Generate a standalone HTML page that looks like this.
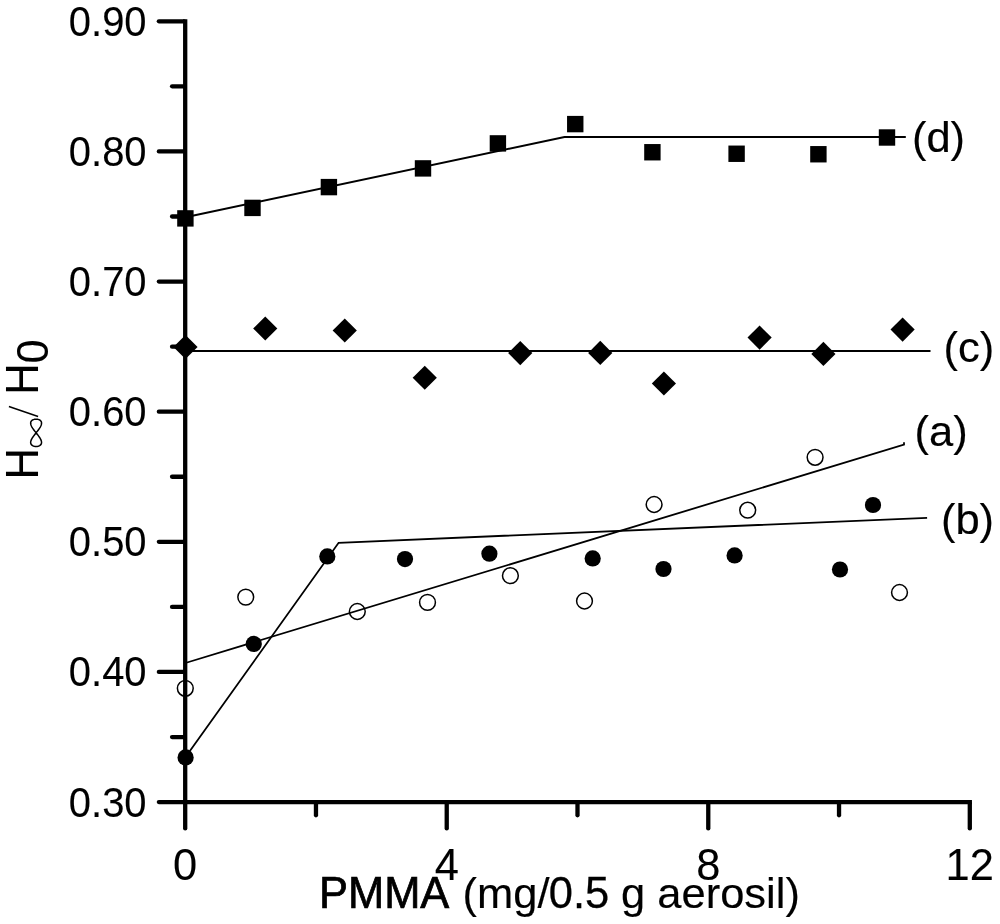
<!DOCTYPE html>
<html><head><meta charset="utf-8"><title>Chart</title>
<style>html,body{margin:0;padding:0;background:#fff;}svg{display:block;filter:grayscale(1);}text{font-family:"Liberation Sans", sans-serif;fill:#000;}</style>
</head><body>
<svg width="1000" height="924" viewBox="0 0 1000 924">
<rect x="0" y="0" width="1000" height="924" fill="#fff"/>
<g fill="none" stroke="#000" stroke-width="1.5">
<circle cx="185.30" cy="688.30" r="7.9"/>
<circle cx="245.75" cy="597.10" r="7.9"/>
<circle cx="357.30" cy="611.50" r="7.9"/>
<circle cx="427.50" cy="602.40" r="7.9"/>
<circle cx="510.40" cy="575.70" r="7.9"/>
<circle cx="584.50" cy="601.00" r="7.9"/>
<circle cx="654.10" cy="504.50" r="7.9"/>
<circle cx="747.70" cy="510.20" r="7.9"/>
<circle cx="815.10" cy="457.30" r="7.9"/>
<circle cx="899.50" cy="592.50" r="7.9"/>
</g>
<g fill="none" stroke="#000" stroke-linejoin="miter" stroke-linecap="butt">
<polyline stroke-width="1.9" points="185.4,217.3 564.5,137 905.8,137"/>
<polyline stroke-width="1.8" points="185.4,351 930.5,351"/>
<polyline stroke-width="1.8" points="185.4,663 904,444.6 904,442.2"/>
<polyline stroke-width="1.8" points="185.4,757.3 338.6,542.8 927.1,517.8"/>
</g>
<g fill="none" stroke="#000" stroke-width="4.30" stroke-linecap="round">
<line x1="185.20" y1="19.15" x2="185.20" y2="802.10" stroke-linecap="butt"/>
<line x1="185.20" y1="802.10" x2="971.95" y2="802.10" stroke-linecap="butt"/>
<line x1="184.00" y1="21.30" x2="158.85" y2="21.30"/>
<line x1="184.00" y1="86.37" x2="172.05" y2="86.37"/>
<line x1="184.00" y1="151.43" x2="158.85" y2="151.43"/>
<line x1="184.00" y1="216.50" x2="172.05" y2="216.50"/>
<line x1="184.00" y1="281.57" x2="158.85" y2="281.57"/>
<line x1="184.00" y1="346.63" x2="172.05" y2="346.63"/>
<line x1="184.00" y1="411.70" x2="158.85" y2="411.70"/>
<line x1="184.00" y1="476.77" x2="172.05" y2="476.77"/>
<line x1="184.00" y1="541.83" x2="158.85" y2="541.83"/>
<line x1="184.00" y1="606.90" x2="172.05" y2="606.90"/>
<line x1="184.00" y1="671.97" x2="158.85" y2="671.97"/>
<line x1="184.00" y1="737.03" x2="172.05" y2="737.03"/>
<line x1="184.00" y1="802.10" x2="158.85" y2="802.10"/>
<line x1="185.20" y1="803.30" x2="185.20" y2="828.45"/>
<line x1="315.97" y1="803.30" x2="315.97" y2="815.25"/>
<line x1="446.73" y1="803.30" x2="446.73" y2="828.45"/>
<line x1="577.50" y1="803.30" x2="577.50" y2="815.25"/>
<line x1="708.27" y1="803.30" x2="708.27" y2="828.45"/>
<line x1="839.03" y1="803.30" x2="839.03" y2="815.25"/>
<line x1="969.80" y1="803.30" x2="969.80" y2="828.45"/>
</g>
<rect x="177.20" y="210.20" width="16.40" height="16.40" fill="#000"/>
<rect x="244.30" y="199.70" width="16.40" height="16.40" fill="#000"/>
<rect x="320.70" y="178.90" width="16.40" height="16.40" fill="#000"/>
<rect x="414.80" y="160.20" width="16.40" height="16.40" fill="#000"/>
<rect x="489.70" y="135.20" width="16.40" height="16.40" fill="#000"/>
<rect x="567.05" y="115.90" width="16.40" height="16.40" fill="#000"/>
<rect x="644.20" y="144.05" width="16.40" height="16.40" fill="#000"/>
<rect x="728.40" y="145.55" width="16.40" height="16.40" fill="#000"/>
<rect x="810.20" y="146.05" width="16.40" height="16.40" fill="#000"/>
<rect x="878.80" y="129.30" width="16.40" height="16.40" fill="#000"/>
<polygon points="173.40,347.00 185.50,334.90 197.60,347.00 185.50,359.10" fill="#000"/>
<polygon points="253.15,328.50 265.25,316.40 277.35,328.50 265.25,340.60" fill="#000"/>
<polygon points="332.65,330.50 344.75,318.40 356.85,330.50 344.75,342.60" fill="#000"/>
<polygon points="412.65,377.75 424.75,365.65 436.85,377.75 424.75,389.85" fill="#000"/>
<polygon points="508.15,353.10 520.25,341.00 532.35,353.10 520.25,365.20" fill="#000"/>
<polygon points="588.15,352.90 600.25,340.80 612.35,352.90 600.25,365.00" fill="#000"/>
<polygon points="651.80,383.50 663.90,371.40 676.00,383.50 663.90,395.60" fill="#000"/>
<polygon points="747.50,337.60 759.60,325.50 771.70,337.60 759.60,349.70" fill="#000"/>
<polygon points="811.30,353.90 823.40,341.80 835.50,353.90 823.40,366.00" fill="#000"/>
<polygon points="890.50,329.60 902.60,317.50 914.70,329.60 902.60,341.70" fill="#000"/>
<circle cx="185.60" cy="757.40" r="8.1" fill="#000"/>
<circle cx="253.75" cy="643.90" r="8.1" fill="#000"/>
<circle cx="327.30" cy="556.40" r="8.1" fill="#000"/>
<circle cx="405.00" cy="559.10" r="8.1" fill="#000"/>
<circle cx="489.40" cy="553.70" r="8.1" fill="#000"/>
<circle cx="592.70" cy="558.40" r="8.1" fill="#000"/>
<circle cx="663.50" cy="569.00" r="8.1" fill="#000"/>
<circle cx="734.60" cy="555.40" r="8.1" fill="#000"/>
<circle cx="840.00" cy="569.50" r="8.1" fill="#000"/>
<circle cx="873.00" cy="505.00" r="8.1" fill="#000"/>
<text transform="translate(146.60,35.70) scale(1,1.0405)" font-size="40.00" text-anchor="end" stroke="#000" stroke-width="0.10">0.90</text>
<text transform="translate(146.60,165.83) scale(1,1.0405)" font-size="40.00" text-anchor="end" stroke="#000" stroke-width="0.10">0.80</text>
<text transform="translate(146.60,295.97) scale(1,1.0405)" font-size="40.00" text-anchor="end" stroke="#000" stroke-width="0.10">0.70</text>
<text transform="translate(146.60,426.10) scale(1,1.0405)" font-size="40.00" text-anchor="end" stroke="#000" stroke-width="0.10">0.60</text>
<text transform="translate(146.60,556.23) scale(1,1.0405)" font-size="40.00" text-anchor="end" stroke="#000" stroke-width="0.10">0.50</text>
<text transform="translate(146.60,686.37) scale(1,1.0405)" font-size="40.00" text-anchor="end" stroke="#000" stroke-width="0.10">0.40</text>
<text transform="translate(146.60,816.50) scale(1,1.0405)" font-size="40.00" text-anchor="end" stroke="#000" stroke-width="0.10">0.30</text>
<text transform="translate(185.20,879.70) scale(1,1.0405)" font-size="43.50" text-anchor="middle" stroke="#000" stroke-width="0.10">0</text>
<text transform="translate(446.73,879.70) scale(1,1.0405)" font-size="43.50" text-anchor="middle" stroke="#000" stroke-width="0.10">4</text>
<text transform="translate(708.27,879.70) scale(1,1.0405)" font-size="43.50" text-anchor="middle" stroke="#000" stroke-width="0.10">8</text>
<text transform="translate(969.80,879.70) scale(1,1.0405)" font-size="43.50" text-anchor="middle" stroke="#000" stroke-width="0.10">12</text>
<text transform="translate(318.90,907.90) scale(1,1.0405)" font-size="43.50" stroke="#000" stroke-width="0.70">PMMA</text>
<text transform="translate(462.49,907.90) scale(1,0.9830)" font-size="43.50" stroke="#000" stroke-width="0.15">(mg/</text>
<text transform="translate(548.79,907.90) scale(1,1.0405)" font-size="43.50" stroke="#000" stroke-width="0.30">0.5</text>
<text transform="translate(621.04,907.90) scale(1,0.9830)" font-size="43.50" stroke="#000" stroke-width="0.15">g aerosil)</text>
<text transform="translate(911.90,152.10) scale(1,0.9830)" font-size="43.50" stroke="#000" stroke-width="0.15">(d)</text>
<text transform="translate(943.40,362.20) scale(1,0.9830)" font-size="43.50" stroke="#000" stroke-width="0.15">(c)</text>
<text transform="translate(914.60,446.30) scale(1,0.9830)" font-size="43.50" stroke="#000" stroke-width="0.15">(a)</text>
<text transform="translate(940.90,534.30) scale(1,0.9830)" font-size="43.50" stroke="#000" stroke-width="0.15">(b)</text>
<text transform="translate(37.60,479.57) rotate(-90) scale(1,1.0690)" font-size="43.50" stroke="#000" stroke-width="0.05">H</text>
<text transform="translate(37.60,394.67) rotate(-90) scale(1,1.0690)" font-size="43.50" stroke="#000" stroke-width="0.05">H</text>
<text transform="translate(47.60,363.40) rotate(-90) scale(1,1.0405)" font-size="43.50" stroke="#000" stroke-width="0.10">0</text>
<line x1="38.1" y1="416.5" x2="8.9" y2="406.5" stroke="#000" stroke-width="1.5"/>
<polyline points="36.10,446.45 37.05,446.40 37.96,446.24 38.83,445.98 39.60,445.63 40.27,445.17 40.82,444.62 41.22,443.98 41.47,443.26 41.55,442.45 41.47,441.57 41.22,440.63 40.82,439.62 40.27,438.57 39.60,437.47 38.83,436.33 37.96,435.17 37.05,433.99 36.10,432.80 35.15,431.61 34.24,430.43 33.38,429.27 32.60,428.13 31.93,427.03 31.38,425.98 30.98,424.97 30.73,424.03 30.65,423.15 30.73,422.34 30.98,421.62 31.38,420.98 31.93,420.43 32.60,419.97 33.38,419.62 34.24,419.36 35.15,419.20 36.10,419.15 37.05,419.20 37.96,419.36 38.82,419.62 39.60,419.97 40.27,420.43 40.82,420.98 41.22,421.62 41.47,422.34 41.55,423.15 41.47,424.03 41.22,424.97 40.82,425.98 40.27,427.03 39.60,428.13 38.83,429.27 37.96,430.43 37.05,431.61 36.10,432.80 35.15,433.99 34.24,435.17 33.38,436.33 32.60,437.47 31.93,438.57 31.38,439.62 30.98,440.63 30.73,441.57 30.65,442.45 30.73,443.26 30.98,443.98 31.38,444.62 31.93,445.17 32.60,445.63 33.38,445.98 34.24,446.24 35.15,446.40 36.10,446.45" fill="none" stroke="#000" stroke-width="1.5" stroke-linejoin="round"/>
</svg>
</body></html>
